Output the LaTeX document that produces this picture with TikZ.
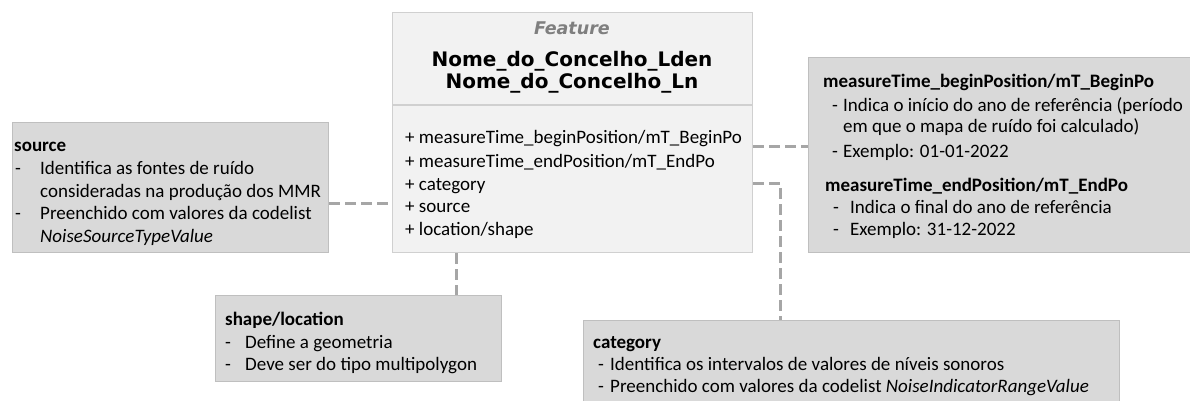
\documentclass[tikz,border=0pt]{standalone}
\usepackage{fontspec}
\setmainfont{Carlito}
\newfontfamily\headfont{DejaVu Sans}
\definecolor{featfill}{HTML}{F2F2F2}
\definecolor{featline}{HTML}{D0D0D0}
\definecolor{notefill}{HTML}{D9D9D9}
\definecolor{noteline}{HTML}{BFBFBF}
\definecolor{connline}{HTML}{A6A6A6}
\definecolor{stereo}{HTML}{7F7F7F}
\begin{document}
\begin{tikzpicture}[x=1pt,y=-1pt,
  featbox/.style={draw=featline,fill=featfill,line width=1.2pt,anchor=north west,inner sep=0pt},
  notebox/.style={draw=noteline,fill=notefill,line width=1pt,anchor=north west,inner sep=0pt},
  conn/.style={draw=connline,line width=3.5pt,dash pattern=on 11pt off 5pt},
  txt/.style={anchor=base west,inner sep=0pt,font=\fontsize{19}{22}\selectfont},
  hd/.style={anchor=base,inner sep=0pt,font=\headfont\bfseries\fontsize{20}{24}\selectfont},
]
\useasboundingbox (0,0) rectangle (1190,401);

% class box
\node[featbox,minimum width=360pt,minimum height=240pt] (feat) at (392,12) {};
\draw[featline,line width=1.2pt] ([yshift=-93pt]feat.north west) -- ([yshift=-93pt]feat.north east);
\node[hd,text=stereo,font=\headfont\bfseries\itshape\fontsize{17.5}{20}\selectfont] (stype) at (572,35) {Feature};
\node[hd] (cname1) at (572,66.7) {Nome\_do\_Concelho\_Lden};
\node[hd] (cname2) at (572,88.3) {Nome\_do\_Concelho\_Ln};
\node[txt] (a1) at (405,143.5) {+ measureTime\_beginPosition/mT\_BeginPo};
\node[txt] (a2) at (405,167) {+ measureTime\_endPosition/mT\_EndPo};
\node[txt] (a3) at (405,190) {+ category};
\node[txt] (a4) at (405,212.5) {+ source};
\node[txt] (a5) at (405,235.5) {+ location/shape};

% note boxes
\node[notebox,minimum width=316pt,minimum height=130pt] (src) at (12,122) {};
\node[notebox,minimum width=386pt,minimum height=194.5pt] (mt) at (808,57.5) {};
\node[notebox,minimum width=286pt,minimum height=86pt] (shp) at (215,295) {};
\node[notebox,minimum width=536pt,minimum height=90pt] (cat) at (583,320) {};

% source note
\node[txt] (s1) at (14,151) {\textbf{source}};
\node[txt] (s2) at (15,174) {\makebox[25pt][l]{-}Identifica as fontes de ruído};
\node[txt] (s3) at (40,197) {consideradas na produção dos MMR};
\node[txt] (s4) at (15,219.5) {\makebox[25pt][l]{-}Preenchido com valores da codelist};
\node[txt] (s5) at (40,242) {\textit{NoiseSourceTypeValue}};

% measureTime note
\node[txt] (m1) at (823,88) {\textbf{measureTime\_beginPosition/mT\_BeginPo}};
\node[txt] (m2) at (832,111) {\makebox[11pt][l]{-}Indica o início do ano de referência (período};
\node[txt] (m3) at (843,132.5) {em que o mapa de ruído foi calculado)};
\node[txt] (m4) at (832,157.5) {\makebox[11pt][l]{-}Exemplo: 01-01-2022};
\node[txt] (m5) at (825,191.5) {\textbf{measureTime\_endPosition/mT\_EndPo}};
\node[txt] (m6) at (833,213) {\makebox[17pt][l]{-}Indica o final do ano de referência};
\node[txt] (m7) at (833,235) {\makebox[17pt][l]{-}Exemplo: 31-12-2022};

% shape note
\node[txt] (g1) at (225,325) {\textbf{shape/location}};
\node[txt] (g2) at (225,348) {\makebox[20pt][l]{-}Define a geometria};
\node[txt] (g3) at (225,370) {\makebox[20pt][l]{-}Deve ser do tipo multipolygon};

% category note
\node[txt] (c1) at (593,348) {\textbf{category}};
\node[txt] (c2) at (598,370) {\makebox[12pt][l]{-}Identifica os intervalos de valores de níveis sonoros};
\node[txt] (c3) at (598,392) {\makebox[12pt][l]{-}Preenchido com valores da codelist \textit{NoiseIndicatorRangeValue}};

% connectors
\coordinate (srcout) at ([yshift=-16pt]src.east);
\draw[conn] (srcout) -- (srcout -| feat.west);
\coordinate (mtout) at ([yshift=-14pt]feat.east);
\draw[conn] (mtout) -- (mtout -| mt.west);
\coordinate (catout) at ([yshift=-51pt]feat.east);
\draw[conn] (catout) -| ([xshift=-71pt]cat.north);
\coordinate (shpout) at ([xshift=-116pt]feat.south);
\draw[conn] (shpout) -- (shpout |- shp.north);
\end{tikzpicture}
\end{document}
